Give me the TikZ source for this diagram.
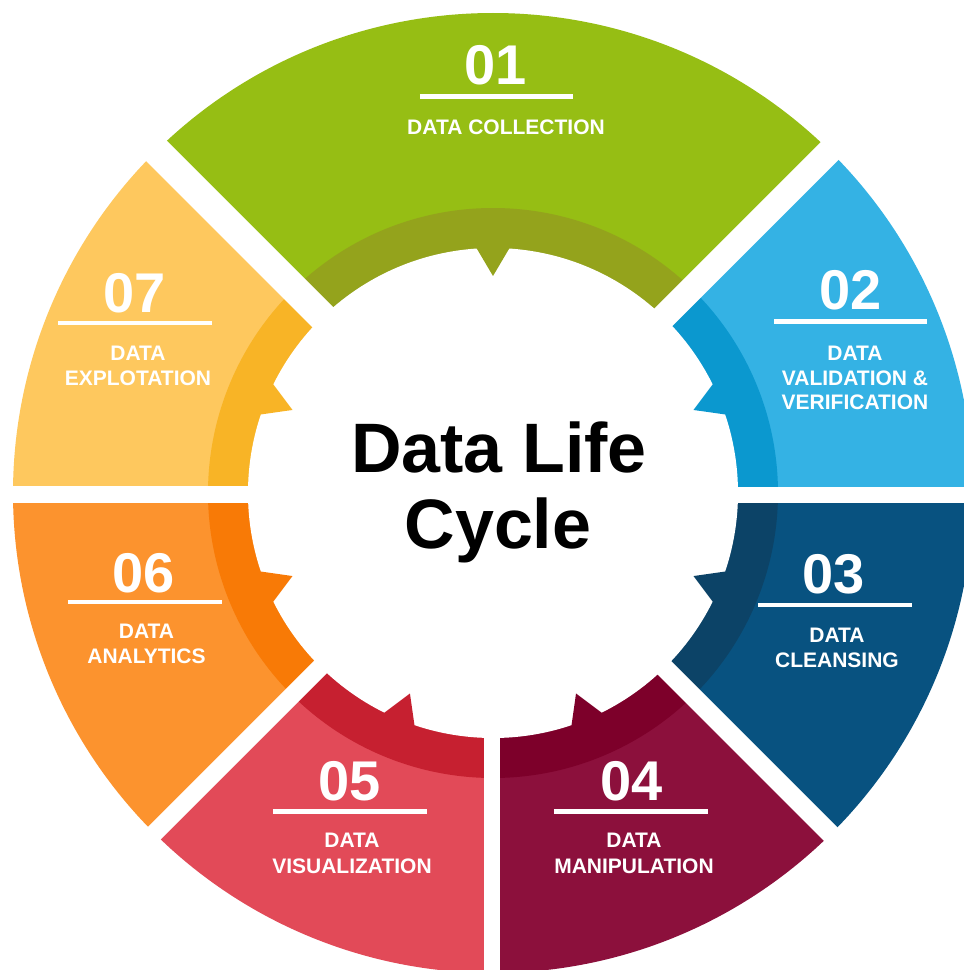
\documentclass[tikz,border=0pt]{standalone}
\usepackage{fontspec}
\setmainfont{Liberation Sans}
\definecolor{cA}{HTML}{96BE14}\definecolor{cAb}{HTML}{94A31C}
\definecolor{cB}{HTML}{34B2E4}\definecolor{cBb}{HTML}{0B98CF}
\definecolor{cC}{HTML}{085280}\definecolor{cCb}{HTML}{0C4367}
\definecolor{cD}{HTML}{8C103C}\definecolor{cDb}{HTML}{7D002A}
\definecolor{cE}{HTML}{E24A58}\definecolor{cEb}{HTML}{C62030}
\definecolor{cF}{HTML}{FC932E}\definecolor{cFb}{HTML}{F87A06}
\definecolor{cG}{HTML}{FEC85E}\definecolor{cGb}{HTML}{F8B426}
\begin{document}
\begin{tikzpicture}[x=1pt,y=1pt,
  numtxt/.style={text=white,anchor=base,inner sep=0pt,font=\fontsize{56}{56}\selectfont\bfseries},
  labtxt/.style={text=white,anchor=base,inner sep=0pt,font=\fontsize{21}{24}\selectfont\bfseries},
  rule/.style={white,line width=4.5pt},
  titletxt/.style={text=black,anchor=base,inner sep=0pt,font=\fontsize{70}{76}\selectfont\bfseries}]
\clip (-493,-477) rectangle (471,493);
\fill[white] (-493,-477) rectangle (471,493);
% segments
\foreach \a/\b/\m/\k in {45/135/cA/cAb,0/45/cB/cBb,-45/0/cC/cCb,-90/-45/cD/cDb,-135/-90/cE/cEb,-180/-135/cF/cFb,135/180/cG/cGb}{
  \fill[\m] (0,0) -- (\a:480) arc[start angle=\a,end angle=\b,radius=480] -- cycle;
  \fill[\k] (0,0) -- (\a:285) arc[start angle=\a,end angle=\b,radius=285] -- cycle;
}
\fill[white] (0,0) circle[radius=245];
% teeth
\foreach \t/\k in {90/cAb,22.5/cBb,-22.5/cCb,-67.5/cDb,-112.5/cEb,-157.5/cFb,157.5/cGb}{
  \fill[\k] ({\t+3.8}:262) -- ({\t+3.8}:245) -- (\t:217) -- ({\t-3.8}:245) -- ({\t-3.8}:262) -- cycle;
}
% gaps
\foreach \g/\p/\q in {45/-8.7/16.3,135/-18.4/10.6,180/-7/10,225/-7.8/9.9,270/-9/7,315/-12/7.1,0/-10/6}{
  \begin{scope}[rotate=\g]
    \fill[white] (0,\p) rectangle (520,\q);
  \end{scope}
}
% numbers
\node[numtxt] (n1) at (3,408) {01};
\node[numtxt] (n2) at (358,183) {02};
\node[numtxt] (n3) at (340.5,-100) {03};
\node[numtxt] (n4) at (138.5,-307) {04};
\node[numtxt] (n5) at (-143.5,-307) {05};
\node[numtxt] (n6) at (-349.5,-99) {06};
\node[numtxt] (n7) at (-358,181) {07};
% rules
\draw[rule] (-73,396.5) -- (80,396.5);
\draw[rule] (281,171.5) -- (434,171.5);
\draw[rule] (265,-112) -- (419,-112);
\draw[rule] (61,-318.5) -- (215,-318.5);
\draw[rule] (-220,-318.5) -- (-66,-318.5);
\draw[rule] (-425,-109) -- (-271,-109);
\draw[rule] (-435,170) -- (-281,170);
% labels
\node[labtxt] (l1) at (13,358) {DATA COLLECTION};
\node[labtxt] (l2a) at (362,133) {DATA};
\node[labtxt] (l2b) at (362,108) {VALIDATION \&};
\node[labtxt] (l2c) at (362,84) {VERIFICATION};
\node[labtxt] (l3a) at (344,-149) {DATA};
\node[labtxt] (l3b) at (344,-174) {CLEANSING};
\node[labtxt] (l4a) at (141,-354) {DATA};
\node[labtxt] (l4b) at (141,-380) {MANIPULATION};
\node[labtxt] (l5a) at (-141,-354) {DATA};
\node[labtxt] (l5b) at (-141,-380) {VISUALIZATION};
\node[labtxt] (l6a) at (-346.5,-145) {DATA};
\node[labtxt] (l6b) at (-346.5,-170) {ANALYTICS};
\node[labtxt] (l7a) at (-355,133) {DATA};
\node[labtxt] (l7b) at (-355,108) {EXPLOTATION};
% title
\node[titletxt] (t1) at (6,21) {Data Life};
\node[titletxt] (t2) at (5,-55) {Cycle};
\end{tikzpicture}
\end{document}
